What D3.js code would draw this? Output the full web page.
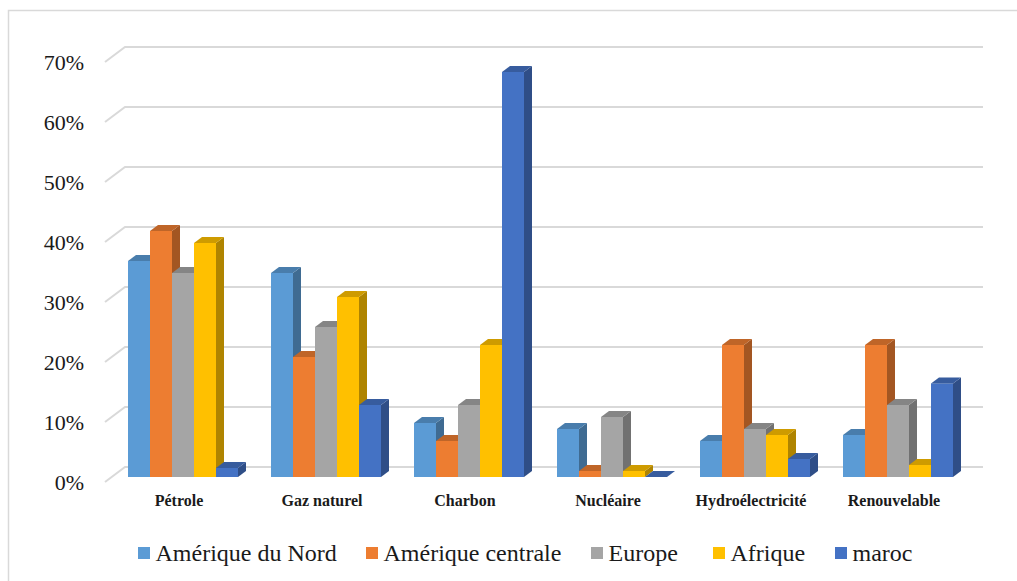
<!DOCTYPE html>
<html>
<head>
<meta charset="utf-8">
<script src="https://cdn.jsdelivr.net/npm/d3@7"></script>
</head>
<body style="margin:0">
<svg id="chart" width="1017" height="581" style="display:block; font-family: 'Liberation Serif', serif;"></svg>
<script>
// Energy mix by source and region (share of total)
const categories = ["Pétrole", "Gaz naturel", "Charbon", "Nucléaire", "Hydroélectricité", "Renouvelable"];
const seriesNames = ["Amérique du Nord", "Amérique centrale", "Europe", "Afrique", "maroc"];
const ameriqueNord     = [0.36, 0.34, 0.09, 0.08, 0.06, 0.07];
const ameriqueCentrale = [0.41, 0.20, 0.06, 0.01, 0.22, 0.22];
const europe           = [0.34, 0.25, 0.12, 0.10, 0.08, 0.12];
const afrique          = [0.39, 0.30, 0.22, 0.01, 0.07, 0.02];
const maroc            = [0.015, 0.12, 0.675, 0.0, 0.03, 0.156];
const tickValues = [0, 0.1, 0.2, 0.3, 0.4, 0.5, 0.6, 0.7];
const colors = ["#5B9BD5", "#ED7D31", "#A5A5A5", "#FFC000", "#4472C4"];

const seriesValues = [ameriqueNord, ameriqueCentrale, europe, afrique, maroc];

const svg = d3.select("#chart");
const serif = '"Liberation Serif", serif';

// Outer chart frame
svg.append("rect")
  .attr("x", 8.5).attr("y", 10.5)
  .attr("width", 1030).attr("height", 620)
  .attr("fill", "none").attr("stroke", "#d9d9d9").attr("stroke-width", 1.5);

// Scales on the bars' front plane
const y = d3.scaleLinear().domain([0, 0.7]).range([477, 57]);
const x0 = d3.scaleBand().domain(categories)
  .range([111.5, 969.5]).paddingInner(33 / 143).paddingOuter(16.5 / 143);
const x1 = d3.scaleBand().domain(seriesNames).range([0, x0.bandwidth()]);

// 3D geometry: wall depth and bar depth offsets
const wall = { dx: 20, dy: -15, backShift: -10, frontShift: 5 };
const depth = { dx: 8, dy: -6 };
const wallLeft = 105, wallRight = 983;

// Back-wall gridlines with the side-wall diagonal
const grid = svg.append("g").attr("stroke", "#d9d9d9").attr("stroke-width", 2).attr("fill", "none");
tickValues.forEach(v => {
  const yf = y(v) + wall.frontShift;
  const yb = y(v) + wall.backShift;
  grid.append("path")
    .attr("d", `M${wallLeft},${yf}L${wallLeft + wall.dx},${yb}L${wallRight},${yb}`);
});

// Tick labels
svg.append("g").selectAll("text")
  .data(tickValues).join("text")
  .attr("x", 84)
  .attr("y", d => y(d) + wall.frontShift)
  .attr("dy", "0.35em")
  .attr("text-anchor", "end")
  .style("font-family", serif)
  .style("font-size", "22px")
  .attr("fill", "#1a1a1a")
  .text(d => d3.format(".0%")(d));

// Bars: front face, right side and top, drawn left to right
const bars = svg.append("g");
categories.forEach((cat, ci) => {
  seriesNames.forEach((name, si) => {
    const v = seriesValues[si][ci];
    const c = d3.color(colors[si]);
    const bx = x0(cat) + x1(name);
    const bw = x1.bandwidth();
    const yTop = y(v), yBase = y(0);
    const g = bars.append("g");
    // right side
    g.append("path")
      .attr("d", `M${bx + bw},${yTop}L${bx + bw + depth.dx},${yTop + depth.dy}L${bx + bw + depth.dx},${yBase + depth.dy}L${bx + bw},${yBase}Z`)
      .attr("fill", c.darker(1.05).formatHex());
    // front face
    g.append("rect")
      .attr("x", bx).attr("y", yTop)
      .attr("width", bw).attr("height", yBase - yTop)
      .attr("fill", colors[si]);
    // top
    g.append("path")
      .attr("d", `M${bx},${yTop}L${bx + depth.dx},${yTop + depth.dy}L${bx + bw + depth.dx},${yTop + depth.dy}L${bx + bw},${yTop}Z`)
      .attr("fill", c.darker(0.6).formatHex());
  });
});

// Category labels
svg.append("g").selectAll("text")
  .data(categories).join("text")
  .attr("x", d => x0(d) + x0.bandwidth() / 2 - 4)
  .attr("y", 506)
  .attr("text-anchor", "middle")
  .style("font-family", serif)
  .style("font-weight", "bold")
  .style("font-size", "16px")
  .attr("fill", "#1a1a1a")
  .text(d => d);

// Legend
const legendX = [138, 366, 591, 713, 835];
const legend = svg.append("g");
seriesNames.forEach((name, i) => {
  const g = legend.append("g").attr("transform", `translate(${legendX[i]},561)`);
  g.append("rect").attr("x", 0).attr("y", -14).attr("width", 12).attr("height", 12).attr("fill", colors[i]);
  g.append("text")
    .attr("x", 17.5).attr("y", 0)
    .style("font-family", serif)
    .style("font-size", "24px")
    .attr("fill", "#1a1a1a")
    .text(name);
});
</script>
</body>
</html>
